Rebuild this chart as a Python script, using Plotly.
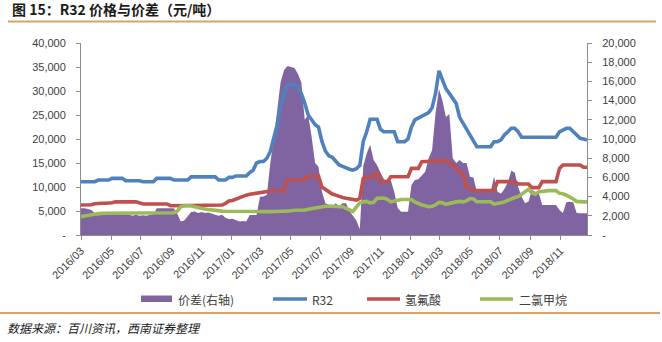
import pandas as pd
import plotly.graph_objects as go

# ---------------- data (weekly readings, yuan/ton) ----------------
dates = pd.date_range("2016-03-01", periods=148, freq="7D")

r32 = [
    11100, 11100, 11100, 11100, 11100, 11450, 11450, 11450, 11450, 11800,
    11800, 11800, 11800, 11300, 11300, 11300, 11300, 11300, 11100, 11100,
    11100, 11100, 11800, 11800, 11800, 11800, 11800, 11450, 11450, 11450,
    11450, 11450, 12100, 12100, 12100, 12100, 12100, 12100, 12100, 12100,
    11450, 11450, 11450, 12000, 12000, 12300, 12300, 12300, 12300, 13000,
    13500, 15000, 15300, 15300, 16000, 17400, 20000, 23000, 27000, 29500,
    31300, 31300, 31300, 30800, 29500, 27500, 25000, 24000, 23000, 22500,
    19500, 17500, 16500, 16200, 15500, 14600, 14300, 13900, 13700, 13500,
    13800, 14500, 19500, 21500, 24100, 24100, 24100, 22000, 21500, 21500,
    21500, 21500, 19440, 19440, 19440, 20000, 22500, 24000, 24400, 24700,
    25000, 25500, 26500, 29500, 34200, 32500, 30500, 29500, 28400, 27400,
    24500, 23300, 22200, 21000, 19500, 18400, 18400, 18400, 18400, 18400,
    19440, 19440, 19800, 20830, 21500, 22230, 22230, 21500, 20350, 20350,
    20350, 20350, 20350, 20350, 20350, 20350, 20350, 20350, 20350, 21500,
    21900, 22230, 22230, 21500, 20830, 20140, 20000, 19790,
]

hf = [
    6250, 6250, 6250, 6300, 6500, 6600, 6600, 6600, 6600, 6700,
    6900, 6940, 6940, 6940, 6940, 6940, 6900, 6600, 6460, 6460,
    6460, 6460, 6460, 6460, 6460, 6460, 6100, 6100, 6100, 6250,
    6250, 6200, 6200, 6200, 6200, 6200, 6200, 6100, 6100, 6250,
    6250, 6250, 6600, 7080, 7200, 7500, 7780, 7900, 8300, 8470,
    8600, 8820, 8900, 9000, 9170, 9170, 9170, 9170, 9170, 9170,
    11460, 11460, 11460, 11460, 11460, 11460, 12300, 12300, 12300, 12300,
    10000, 9500, 9030, 8540, 8300, 7990, 7800, 7640, 7500, 7290,
    7290, 7640, 11800, 12150, 12150, 12150, 13190, 11110, 11110, 11110,
    12150, 12150, 12150, 12150, 12150, 12150, 13890, 13890, 13890, 15270,
    15300, 15500, 15500, 15500, 15500, 15500, 15500, 15000, 14580, 13890,
    12850, 12850, 10070, 9600, 9300, 9240, 9240, 9240, 9240, 9240,
    9240, 11110, 11110, 11110, 11110, 11110, 11110, 10625, 10625, 10625,
    10625, 9860, 9860, 9860, 11110, 11110, 11110, 11110, 11110, 13890,
    14580, 14580, 14580, 14580, 14580, 14580, 14100, 14100,
]

dcm = [
    3820, 3900, 4050, 4200, 4350, 4500, 4510, 4520, 4520, 4530,
    4530, 4540, 4540, 4550, 4550, 4550, 4550, 4560, 4560, 4560,
    4560, 4570, 4570, 4580, 4580, 4600, 4620, 4650, 5000, 5900,
    6100, 6100, 6100, 5900, 5690, 5600, 5400, 5300, 5200, 5060,
    5000, 4980, 4950, 4930, 4900, 4880, 4870, 4860, 4860, 4860,
    4860, 4860, 4860, 4860, 4860, 4860, 4950, 4950, 4950, 4950,
    4950, 5060, 5150, 5150, 5150, 5210, 5350, 5500, 5650, 5800,
    5900, 6000, 6050, 5950, 5900, 5900, 5900, 5500, 5150, 4900,
    5800, 6700, 6900, 7000, 6700, 6800, 7640, 7750, 7700, 7430,
    6900, 7100, 7290, 7400, 7400, 7400, 7400, 6900, 6500, 6250,
    6100, 5900, 6000, 6250, 6800, 6700, 6390, 6600, 6810, 6900,
    7000, 6900, 7100, 7600, 7500, 6940, 6940, 6940, 6940, 6940,
    6460, 6500, 6700, 6900, 7250, 7500, 7800, 7990, 8500, 9030,
    9500, 8800, 8500, 9030, 9150, 9240, 9240, 9240, 9240, 8680,
    8600, 8300, 8000, 7500, 7000, 6900, 6900, 6900,
]

spread = [
    2780, 2780, 2700, 2600, 2300, 2200, 2300, 2200, 2450, 2200,
    2100, 2200, 2100, 2150, 2100, 2000, 2100, 2000, 2050, 2000,
    2100, 2150, 2780, 2780, 2780, 2780, 2780, 2780, 2200, 1400,
    1500, 1900, 2400, 2450, 2300, 2400, 2300, 2350, 2200, 2100,
    2000, 2100, 1800, 1650, 1700, 1560, 1400, 1450, 1400, 2080,
    2100, 2080, 3990, 4000, 4200, 7500, 10000, 13000, 15970, 17200,
    17600, 17500, 17400, 16800, 15900, 12000, 12500, 10200, 7500, 7110,
    4500, 3300, 3100, 2950, 3300, 3000, 3300, 3300, 2500, 2000,
    1500, 600, 7200, 8500, 9400, 7800, 7300, 6500, 5800, 5600,
    5700, 4500, 2800, 2430, 2430, 2430, 5200, 5730, 5800, 6200,
    6600, 7990, 8850, 12670, 15200, 14000, 12300, 12600, 8000, 7500,
    7800, 7500, 7500, 6080, 6000, 4510, 4510, 4510, 4510, 4510,
    6080, 4500, 4300, 4800, 5500, 6700, 6500, 5000, 4000, 3300,
    3500, 4690, 4500, 4340, 3130, 3130, 3130, 3130, 3130, 2600,
    2300, 3400, 3470, 3400, 2300, 2260, 2260, 2260,
]

left_ticks = [0, 5000, 10000, 15000, 20000, 25000, 30000, 35000, 40000]
left_ticktext = ["-", "5,000", "10,000", "15,000", "20,000", "25,000", "30,000", "35,000", "40,000"]
right_ticks = [0, 2000, 4000, 6000, 8000, 10000, 12000, 14000, 16000, 18000, 20000]
right_ticktext = ["-", "2,000", "4,000", "6,000", "8,000", "10,000", "12,000", "14,000", "16,000", "18,000", "20,000"]
x_ticks = ["2016-03-01", "2016-05-01", "2016-07-01", "2016-09-01", "2016-11-01",
           "2017-01-01", "2017-03-01", "2017-05-01", "2017-07-01", "2017-09-01",
           "2017-11-01", "2018-01-01", "2018-03-01", "2018-05-01", "2018-07-01",
           "2018-09-01", "2018-11-01"]

names = ["价差(右轴)", "R32", "氢氟酸", "二氯甲烷"]
colors = ["#8064A2", "#4F81BD", "#C0504D", "#9BBB59"]

# ---------------- geometry helpers (pixels -> paper) ----------------
W, H = 662, 342
L, R, T, B = 81, 75, 43, 107
PW, PH = W - L - R, H - T - B


def px(x):
    return (x - L) / PW


def py(y):
    return (H - B - y) / PH


CJK = "Noto Sans CJK SC"
NUM = "Liberation Sans"
TXT = "#404040"

fig = go.Figure()
fig.add_trace(go.Scatter(x=dates, y=spread, name=names[0], yaxis="y", mode="lines",
                         line=dict(width=0, color=colors[0]), fill="tozeroy",
                         fillcolor=colors[0], showlegend=False))
for vals, nm, col in [(r32, names[1], colors[1]), (hf, names[2], colors[2]), (dcm, names[3], colors[3])]:
    fig.add_trace(go.Scatter(x=dates, y=vals, name=nm, yaxis="y2", mode="lines",
                             line=dict(width=3.6, color=col), showlegend=False))

axis_common = dict(showline=True, linecolor="#8C8C8C", linewidth=1, ticks="outside",
                   ticklen=4, tickcolor="#8C8C8C", showgrid=False, zeroline=False,
                   tickfont=dict(family=NUM, size=11, color=TXT))

fig.update_layout(
    width=W, height=H,
    margin=dict(l=L, r=R, t=T, b=B, pad=0),
    paper_bgcolor="white", plot_bgcolor="white",
    showlegend=False,
    xaxis=dict(type="date", range=["2016-03-01", "2018-12-25"], tickvals=x_ticks,
               tickformat="%Y/%m", tickangle=-45, **axis_common),
    yaxis=dict(side="right", range=[0, 20000], tickvals=right_ticks, ticktext=right_ticktext,
               ticklabelstandoff=8, **axis_common),
    yaxis2=dict(side="left", overlaying="y", anchor="x", range=[0, 40000], tickvals=left_ticks,
                ticktext=left_ticktext, ticklabelstandoff=8, **axis_common),
)

shapes = []
annotations = []
# title + rules
annotations.append(dict(text="<b>图 15：R32 价格与价差（元/吨）</b>", x=px(10), y=py(9),
                        xref="paper", yref="paper", xanchor="left", yanchor="middle",
                        showarrow=False, font=dict(family=CJK, size=14, color="#1a1a1a")))
shapes.append(dict(type="line", xref="paper", yref="paper", x0=px(8), x1=px(656),
                   y0=py(21.5), y1=py(21.5), line=dict(color="#D4A46A", width=2)))
shapes.append(dict(type="line", xref="paper", yref="paper", x0=px(0), x1=px(660),
                   y0=py(313), y1=py(313), line=dict(color="#D4A46A", width=2)))
annotations.append(dict(text="数据来源：百川资讯，西南证券整理", x=px(5), y=py(327),
                        xref="paper", yref="paper", xanchor="left", yanchor="middle",
                        showarrow=False, font=dict(family=CJK, size=12, color="#1a1a1a", style="italic")))

# custom legend
shapes.append(dict(type="rect", xref="paper", yref="paper", x0=px(141), x1=px(172),
                   y0=py(302), y1=py(295.5), fillcolor=colors[0], line=dict(width=0)))
for (x0, x1, col) in [(273, 307, colors[1]), (367, 400, colors[2]), (480, 513, colors[3])]:
    shapes.append(dict(type="line", xref="paper", yref="paper", x0=px(x0), x1=px(x1),
                       y0=py(299), y1=py(299), line=dict(color=col, width=3.5)))
for tx, nm in zip([176, 310, 403, 517], names):
    annotations.append(dict(text=nm, x=px(tx), y=py(299), xref="paper", yref="paper",
                            xanchor="left", yanchor="middle", showarrow=False,
                            font=dict(family=CJK, size=12, color=TXT)))

fig.update_layout(shapes=shapes, annotations=annotations)
fig.write_html("out.html")
